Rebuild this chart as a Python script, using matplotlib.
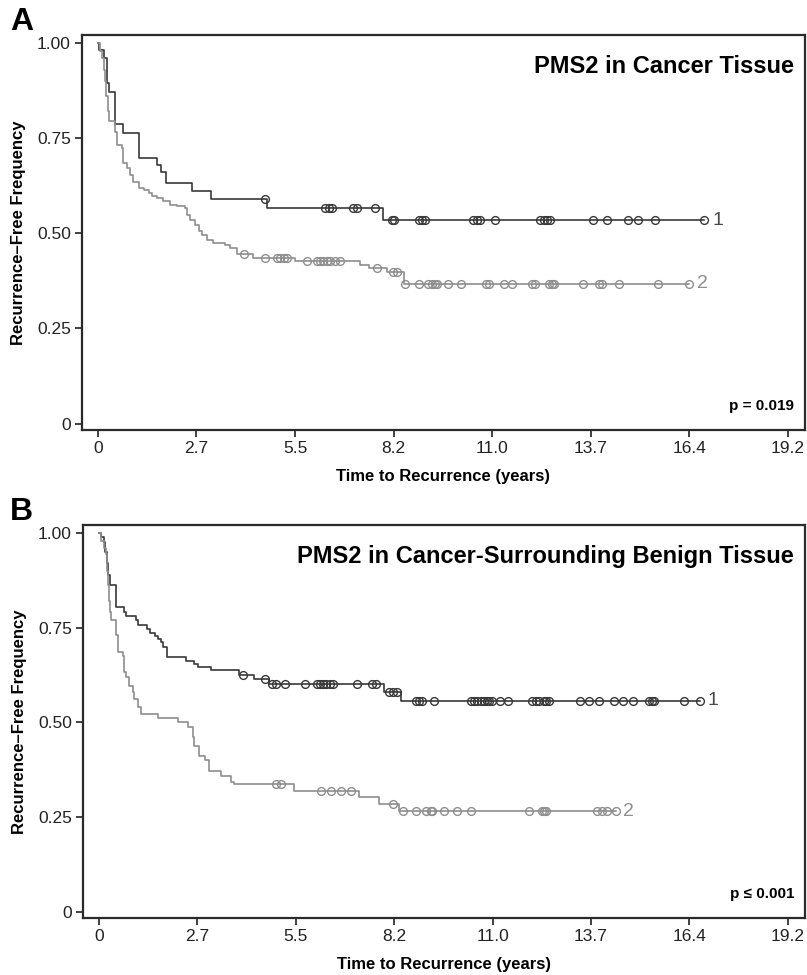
import numpy as np
import matplotlib
matplotlib.use("Agg")
import matplotlib.pyplot as plt

plt.rcParams["font.family"] = ["Liberation Sans", "DejaVu Sans"]

# --- data (time in years, recurrence-free frequency) ---
# panel A: PMS2 in cancer tissue
a1_t = [0, 0.02, 0.16, 0.25, 0.30, 0.48, 0.71, 1.13, 1.64, 1.75, 1.90, 2.61, 3.14, 4.71, 7.93]
a1_s = [1.0, 0.982, 0.960, 0.894, 0.870, 0.787, 0.763, 0.697, 0.680, 0.662, 0.632, 0.610, 0.590, 0.566, 0.534]
a1_cens = [4.65, 6.32, 6.41, 6.50, 7.10, 7.21, 7.70, 8.17, 8.23, 8.91, 9.00, 9.09, 10.43, 10.53,
           10.62, 11.02, 12.29, 12.38, 12.47, 12.56, 13.75, 14.14, 14.72, 14.99, 15.48, 16.84]

a2_t = [0, 0.06, 0.12, 0.18, 0.21, 0.24, 0.27, 0.30, 0.48, 0.545, 0.67, 0.71, 0.80, 0.90, 0.99,
        1.13, 1.27, 1.41, 1.50, 1.64, 1.82, 2.01, 2.19, 2.42, 2.47, 2.56, 2.70, 2.80, 2.89, 3.03,
        3.21, 3.54, 3.67, 3.86, 4.32, 5.48, 7.29, 7.52, 8.03, 8.49]
a2_s = [1.0, 0.98, 0.96, 0.93, 0.90, 0.86, 0.82, 0.794, 0.767, 0.732, 0.724, 0.684, 0.671, 0.653,
        0.636, 0.618, 0.614, 0.605, 0.597, 0.592, 0.584, 0.575, 0.571, 0.566, 0.549, 0.536, 0.523,
        0.505, 0.496, 0.483, 0.474, 0.470, 0.461, 0.446, 0.435, 0.426, 0.417, 0.408, 0.397, 0.367]
a2_cens = [4.05, 4.65, 4.97, 5.06, 5.16, 5.25, 5.80, 6.08, 6.17, 6.26, 6.36, 6.45, 6.59, 6.73,
           7.75, 8.21, 8.31, 8.54, 8.93, 9.18, 9.28, 9.37, 9.43, 9.72, 10.08, 10.79, 10.85, 11.27,
           11.50, 12.06, 12.15, 12.52, 12.61, 12.66, 13.47, 13.93, 14.00, 14.48, 15.55, 16.42]

# panel B: PMS2 in cancer-surrounding benign tissue
b1_t = [0, 0.05, 0.14, 0.18, 0.22, 0.26, 0.30, 0.48, 0.71, 0.76, 1.04, 1.08, 1.34, 1.43, 1.55,
        1.64, 1.73, 1.78, 1.90, 2.42, 2.66, 2.75, 3.12, 3.91, 4.32, 4.72, 7.93, 8.40]
b1_s = [1.0, 0.99, 0.975, 0.95, 0.92, 0.89, 0.862, 0.805, 0.791, 0.781, 0.769, 0.756, 0.747,
        0.736, 0.728, 0.721, 0.712, 0.698, 0.672, 0.663, 0.654, 0.646, 0.637, 0.625, 0.615,
        0.601, 0.581, 0.557]
b1_cens = [4.02, 4.63, 4.83, 4.94, 5.18, 5.74, 6.06, 6.15, 6.24, 6.33, 6.43, 6.52, 7.19, 7.61,
           7.70, 8.07, 8.17, 8.28, 8.81, 8.91, 9.00, 9.32, 10.34, 10.43, 10.53, 10.62, 10.71,
           10.79, 10.85, 10.94, 11.16, 11.39, 12.06, 12.15, 12.24, 12.38, 12.45, 12.52, 13.37,
           13.63, 13.91, 14.32, 14.58, 14.85, 15.29, 15.39, 15.43, 16.27, 16.71]

b2_t = [0, 0.06, 0.14, 0.20, 0.24, 0.26, 0.28, 0.30, 0.34, 0.48, 0.53, 0.67, 0.71, 0.76, 0.85,
        0.94, 0.99, 1.08, 1.17, 1.64, 2.19, 2.47, 2.61, 2.66, 2.80, 2.94, 3.07, 3.40, 3.68, 3.77,
        5.44, 7.24, 7.80, 8.35]
b2_s = [1.0, 0.98, 0.96, 0.945, 0.90, 0.862, 0.82, 0.79, 0.769, 0.730, 0.686, 0.676, 0.632,
        0.619, 0.597, 0.580, 0.562, 0.540, 0.522, 0.511, 0.500, 0.487, 0.460, 0.438, 0.412,
        0.399, 0.372, 0.359, 0.341, 0.336, 0.319, 0.302, 0.284, 0.265]
b2_cens = [4.93, 5.06, 6.18, 6.45, 6.73, 7.01, 8.19, 8.47, 8.83, 9.09, 9.23, 9.28, 9.60, 9.97,
           10.34, 11.96, 12.33, 12.38, 12.43, 13.86, 14.00, 14.14, 14.37]

group_names = ["1", "2"]
x_ticks = [0, 1000 / 365.25, 2000 / 365.25, 3000 / 365.25, 4000 / 365.25,
           5000 / 365.25, 6000 / 365.25, 7000 / 365.25]
x_ticklabels = ["0", "2.7", "5.5", "8.2", "11.0", "13.7", "16.4", "19.2"]
y_ticks = [0, 0.25, 0.5, 0.75, 1.0]
y_ticklabels = ["0", "0.25", "0.50", "0.75", "1.00"]

panels = [
    ("A", "PMS2 in Cancer Tissue", "p = 0.019",
     [(a1_t, a1_s, a1_cens), (a2_t, a2_s, a2_cens)]),
    ("B", "PMS2 in Cancer-Surrounding Benign Tissue", "p \u2264 0.001",
     [(b1_t, b1_s, b1_cens), (b2_t, b2_s, b2_cens)]),
]
colors = ["#383838", "#8e8e8e"]
label_colors = ["#4a4a4a", "#8e8e8e"]

W, H = 807, 975
fig = plt.figure(figsize=(W / 100, H / 100), dpi=100)
boxes = [(82, 35, 805, 430), (83, 525, 805, 918)]  # pixel boxes l, t, r, b

for (letter, title, ptxt, curves), (l, t, r, b) in zip(panels, boxes):
    ax = fig.add_axes([l / W, 1 - b / H, (r - l) / W, (b - t) / H])
    for k, (tt, ss, cc) in enumerate(curves):
        tt = np.asarray(tt)
        ss = np.asarray(ss)
        cc = np.asarray(cc)
        end = cc.max()
        xs = np.append(tt, end)
        ys = np.append(ss, ss[-1])
        ax.step(xs, ys, where="post", color=colors[k], lw=1.2)
        cy = ss[np.searchsorted(tt, cc, side="right") - 1]
        ax.plot(cc, cy, "o", mfc="none", mec=colors[k], ms=5.6, mew=1.0)
        ax.text(end + 0.22, ys[-1], group_names[k], color=label_colors[k],
                fontsize=14, va="center", ha="left")

    ax.set_xlim(-0.44, 19.64)
    ax.set_ylim(-0.017, 1.021)
    ax.set_xticks(x_ticks)
    ax.set_xticklabels(x_ticklabels)
    ax.set_yticks(y_ticks)
    ax.set_yticklabels(y_ticklabels)
    ax.tick_params(direction="out", length=5, width=1.2, labelsize=12.5, colors="#222222", pad=3)
    for sp in ax.spines.values():
        sp.set_linewidth(1.6)
        sp.set_color("#2a2a2a")

    ax.set_xlabel("Time to Recurrence (years)", fontsize=12, fontweight="bold", labelpad=9)
    ax.set_ylabel("Recurrence\u2013Free Frequency", fontsize=12, fontweight="bold", labelpad=8)
    ax.text(0.985, 0.92, title, transform=ax.transAxes, ha="right", va="center",
            fontsize=17, fontweight="bold")
    ax.text(0.985, 0.06, ptxt, transform=ax.transAxes, ha="right", va="center",
            fontsize=11, fontweight="bold")
    fig.text(10 / W, 1 - (t - 13) / H, letter, fontsize=23, fontweight="bold",
             ha="left", va="center")

fig.savefig("out.png", dpi=100)
